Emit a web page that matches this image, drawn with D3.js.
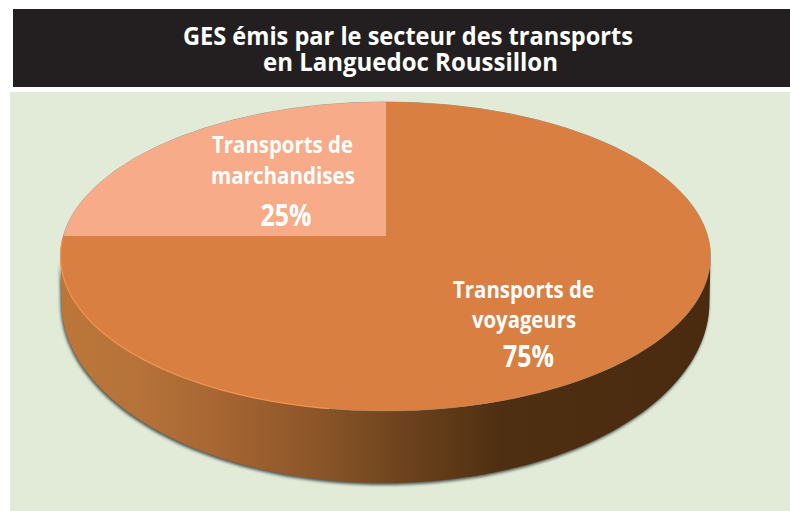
<!DOCTYPE html>
<html><head><meta charset="utf-8">
<script src="https://cdn.jsdelivr.net/npm/d3@7"></script>
<style>html,body{margin:0;padding:0;background:#fff}svg{display:block}</style>
</head><body><svg id="c" width="790" height="511"></svg>
<script>
const titleLines = ["GES émis par le secteur des transports","en Languedoc Roussillon"];
const categories = ["Transports de voyageurs","Transports de marchandises"];
const values = [75,25];
const labelLines = [["Transports de","voyageurs"],["Transports de","marchandises"]];
const percentLabels = ["75%","25%"];
const sliceColors = ["#d97f42","#f7ab88"];
const font = "'Open Sans',sans-serif";

const svg = d3.select("#c");
const defs = svg.append("defs");
svg.append("rect").attr("x",13).attr("y",9).attr("width",777).attr("height",78).attr("fill","#231f20");
svg.append("rect").attr("x",10).attr("y",92).attr("width",780).attr("height",419).attr("fill","#e1ebd8");
const titleWidths=[450,295];
svg.append("text").attr("text-anchor","middle")
  .attr("font-family",font).attr("font-weight",700).attr("font-size",25).attr("fill","#fff")
  .selectAll("tspan").data(titleLines).join("tspan")
  .attr("x",(d,i)=>i?410.5:408).attr("y",(d,i)=>45+i*25.5)
  .attr("textLength",(d,i)=>titleWidths[i]).attr("lengthAdjust","spacingAndGlyphs").text(d=>d);

const cx=385.5, cy=256.5, rx=325, ry=154.5, apexY=236;
const c=(apexY-cy)/ry, sc=Math.sqrt(1-c*c);
const project=a=>{const u=Math.sin(a),v=-Math.cos(a),w=1+c*v;
  return [cx+rx*u*sc/w, cy+ry*(v+c)/w];};
const pie=d3.pie().sort(null).value(d=>d)(values);
const sweep=d=>d3.range(0,121).map(i=>d.startAngle+(d.endAngle-d.startAngle)*i/120);
const line=d3.line();
const slicePath=d=>{const n=sweep(d).map(project);return "M"+project(0)[0]+","+apexY+"L"+line(n).slice(1)+"Z";};

// wall
const botCy=302, botRy=181, botRx=324;
const g=defs.append("linearGradient").attr("id","wall").attr("gradientUnits","userSpaceOnUse")
  .attr("x1",60).attr("x2",710).attr("y1",0).attr("y2",0);
[[0,"#bd7638"],[0.12,"#b5733a"],[0.25,"#a66532"],[0.4,"#8a5528"],[0.52,"#6e441e"],[0.68,"#4f2f11"],[1,"#4a2b10"]]
 .forEach(([o,col])=>g.append("stop").attr("offset",o).attr("stop-color",col));
const f=defs.append("filter").attr("id","sh").attr("x","-5%").attr("y","-5%").attr("width","110%").attr("height","115%");
f.append("feGaussianBlur").attr("stdDeviation",1.8);
const wallPts=d3.range(0,181,2).map(t=>{const a=t*Math.PI/180;return [cx+rx*Math.cos(a),cy+ry*Math.sin(a)];});
const botPts=d3.range(180,-1,-2).map(t=>{const a=t*Math.PI/180;return [cx+botRx*Math.cos(a),botCy+botRy*Math.sin(a)];});
const wallD=line(wallPts.concat(botPts))+"Z";
svg.append("path").attr("d",wallD).attr("fill","#4f5650").attr("transform","translate(-1,2)").attr("filter","url(#sh)");
svg.append("path").attr("d",wallD).attr("fill","url(#wall)");

// top
svg.append("ellipse").attr("cx",cx).attr("cy",cy).attr("rx",rx).attr("ry",ry).attr("fill","none").attr("stroke","#6f7a6c").attr("stroke-width",1).attr("opacity",.7);
svg.append("g").selectAll("path").data(pie).join("path").attr("d",slicePath).attr("fill",(d,i)=>sliceColors[i]);
const rim=d3.range(100,188,2).map(t=>{const a=t*Math.PI/180;return [cx+rx*Math.cos(a),cy+ry*Math.sin(a)];});
svg.append("path").attr("d",line(rim)).attr("fill","none").attr("stroke","#f49450").attr("stroke-width",1.2);

const labelPos=[{x:[523.5,524],y:[298,328],w:[141,104],px:528.5,py:367},{x:[282.5,283],y:[153,184],w:[141,144],px:286,py:226}];
const lg=svg.append("g").attr("font-family",font).attr("fill","#fff").attr("text-anchor","middle");
categories.forEach((c0,i)=>{
  labelLines[i].forEach((t,k)=>lg.append("text").attr("x",labelPos[i].x[k]).attr("y",labelPos[i].y[k])
    .attr("textLength",labelPos[i].w[k]).attr("lengthAdjust","spacingAndGlyphs")
    .attr("font-weight",700).attr("font-size",22.5).text(t));
  lg.append("text").attr("x",labelPos[i].px).attr("y",labelPos[i].py).attr("textLength",51).attr("lengthAdjust","spacingAndGlyphs")
    .attr("font-weight",700).attr("font-size",31).text(percentLabels[i]);
});
</script></body></html>
